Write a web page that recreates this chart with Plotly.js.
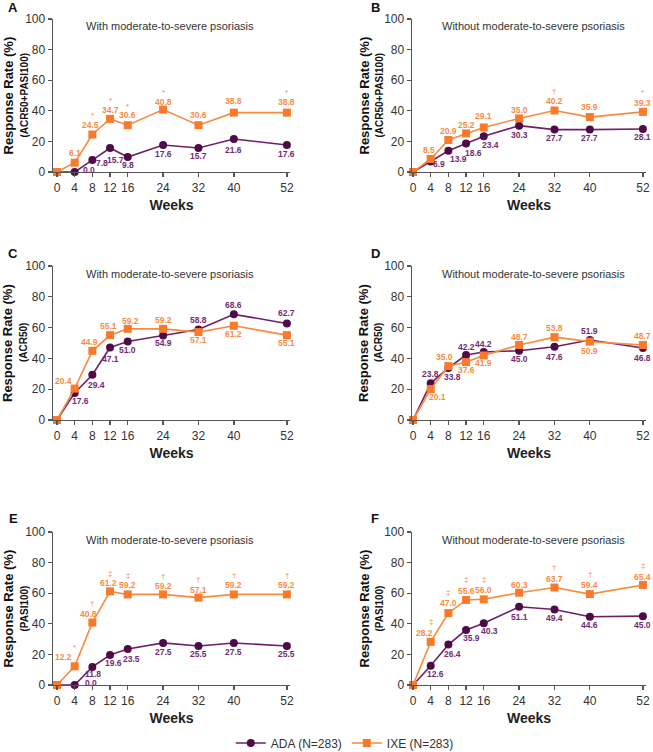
<!DOCTYPE html>
<html>
<head>
<meta charset="utf-8">
<script src="https://cdn.plot.ly/plotly-3.0.1.min.js"></script>
<style>html,body{margin:0;padding:0;background:#fff;overflow:hidden;}#chart{width:653px;height:752px;}</style>
</head>
<body>
<div id="chart"></div>
<script>
// ---- data ----
const weeks = [0, 4, 8, 12, 16, 24, 32, 40, 52];
const yTicks = [0, 20, 40, 60, 80, 100];

const adaA = [0, 0.0, 7.8, 15.7, 9.8, 17.6, 15.7, 21.6, 17.6];
const ixeA = [0, 6.1, 24.5, 34.7, 30.6, 40.8, 30.6, 38.8, 38.8];
const sigA = ['', '', '*', '*', '*', '*', '', '', '*'];

const adaB = [0, 6.9, 13.9, 18.6, 23.4, 30.3, 27.7, 27.7, 28.1];
const ixeB = [0, 8.5, 20.9, 25.2, 29.1, 35.0, 40.2, 35.9, 39.3];
const sigB = ['', '', '', '', '', '', '†', '', '*'];

const adaC = [0, 17.6, 29.4, 47.1, 51.0, 54.9, 58.8, 68.6, 62.7];
const ixeC = [0, 20.4, 44.9, 55.1, 59.2, 59.2, 57.1, 61.2, 55.1];
const sigC = ['', '', '', '', '', '', '', '', ''];

const adaD = [0, 23.8, 33.8, 42.2, 44.2, 45.0, 47.6, 51.9, 46.8];
const ixeD = [0, 20.1, 35.0, 37.6, 41.9, 48.7, 53.8, 50.9, 48.7];
const sigD = ['', '', '', '', '', '', '', '', ''];

const adaE = [0, 0.0, 11.8, 19.6, 23.5, 27.5, 25.5, 27.5, 25.5];
const ixeE = [0, 12.2, 40.8, 61.2, 59.2, 59.2, 57.1, 59.2, 59.2];
const sigE = ['', '*', '†', '‡', '‡', '†', '†', '†', '†'];

const adaF = [0, 12.6, 26.4, 35.9, 40.3, 51.1, 49.4, 44.6, 45.0];
const ixeF = [0, 28.2, 47.0, 55.6, 56.0, 60.3, 63.7, 59.4, 65.4];
const sigF = ['', '‡', '‡', '‡', '‡', '', '†', '†', '‡'];

const seriesNames = ['ADA (N=283)', 'IXE (N=283)'];
const panelLetters = ['A', 'B', 'C', 'D', 'E', 'F'];
const subTitles = ['With moderate-to-severe psoriasis', 'Without moderate-to-severe psoriasis'];
const yMain = 'Response Rate (%)';
const ySubs = ['(ACR50+PASI100)', '(ACR50+PASI100)', '(ACR50)', '(ACR50)', '(PASI100)', '(PASI100)'];
const xTitle = 'Weeks';

const adaData = [adaA, adaB, adaC, adaD, adaE, adaF];
const ixeData = [ixeA, ixeB, ixeC, ixeD, ixeE, ixeF];
const sigData = [sigA, sigB, sigC, sigD, sigE, sigF];

// ---- label placement (style): pixel offsets [dx, dy] from the marker, dy down-positive ----
const offAda = [
  [null, [14, -2], [10, 3], [5, 12], [0, 8], [0, 9], [0, 8], [0, 11], [0, 9]],
  [null, [8, 3], [10, 8], [7, 9], [7, 9], [0, 9], [0, 8], [0, 8], [0, 8]],
  [null, [6, 8], [4, 10], [0, 12], [0, 9], [0, 8], [0, -9], [0, -9], [0, -10]],
  [null, [0, -9], [4, 9], [0, -8], [0, -8], [0, 8], [0, 10], [0, -9], [0, 10]],
  [null, [16, -2], [1, 7], [3, 8], [4, 10], [0, 9], [0, 8], [0, 9], [0, 8]],
  [null, [5, 8], [4, 9], [5, 8], [6, 8], [0, 10], [0, 9], [0, 8], [0, 9]]
];
const offIxe = [
  [null, [0, -10], [-2, -10], [0, -9], [0, -10], [0, -8], [0, -10], [0, -12], [0, -11]],
  [null, [-2, -9], [0, -9], [0, -8], [0, -11], [0, -8], [0, -9], [0, -10], [0, -9]],
  [null, [-11, -8], [-3, -9], [-2, -9], [3, -8], [0, -9], [0, 8], [0, 8], [0, 8]],
  [null, [7, 8], [-4, -9], [0, 8], [0, 8], [0, -8], [0, -9], [0, 9], [0, -9]],
  [null, [-11, -9], [-4, -9], [-2, -8], [0, -9], [0, -8], [0, -8], [0, -9], [0, -9]],
  [null, [-6, -9], [0, -10], [0, -9], [0, -9], [0, -8], [0, -9], [0, -9], [0, -8]]
];
const symGap = [9, 10, 10, 10, 10, 11];

const FONT = 'Liberation Sans, Arial, sans-serif';
const PURPLE = '#4e0b47', PURPLE_LINE = '#6e1f66', PURPLE_TXT = '#742a72';
const ORANGE = '#f97a2a', ORANGE_LINE = '#f98a3e', ORANGE_TXT = '#f98b3f';

const W = 653, H = 752;
const colPx = [{d: [53, 290], r: [-0.9, 52.7]}, {d: [412, 646], r: [-0.23, 52.7]}];
const rowPx = [[19, 172], [266, 420], [532, 685]];

function fmt(v) { return v.toFixed(1); }

const traces = [];
const layout = {
  width: W, height: H,
  margin: {l: 0, r: 0, t: 0, b: 0, autoexpand: false},
  paper_bgcolor: '#fff', plot_bgcolor: '#fff',
  font: {family: FONT, color: '#333'},
  showlegend: true,
  legend: {orientation: 'h', x: 0.528, xanchor: 'center', y: 1 - 743 / H, yanchor: 'middle',
           font: {size: 12, color: '#333', family: FONT}, tracegroupgap: 0, bgcolor: 'rgba(0,0,0,0)'},
  annotations: []
};

function addLabel(xa, ya, x, y, txt, off, color, size) {
  layout.annotations.push({
    xref: xa, yref: ya, x: x, y: y, text: txt, showarrow: false,
    xanchor: 'center', yanchor: 'middle', xshift: off[0], yshift: -off[1],
    font: {size: size, color: color, family: FONT, weight: 'bold'}
  });
}

for (let p = 0; p < 6; p++) {
  const col = p % 2, row = Math.floor(p / 2);
  const ax = p === 0 ? '' : String(p + 1);
  const xa = 'x' + ax, ya = 'y' + ax;
  const cp = colPx[col], rp = rowPx[row];
  layout['xaxis' + ax] = {
    domain: [cp.d[0] / W, cp.d[1] / W], range: cp.r, anchor: ya,
    tickvals: weeks, ticktext: weeks.map(String), ticks: 'outside', ticklen: 4, tickwidth: 1.3,
    tickcolor: '#555', showline: true, linecolor: '#555', linewidth: 1.4, showgrid: false, zeroline: false,
    tickfont: {size: 12, color: '#333', family: FONT}, fixedrange: true,
    title: {text: xTitle, font: {size: 14, color: '#222', family: FONT, weight: 'bold'}, standoff: 6}
  };
  layout['yaxis' + ax] = {
    domain: [1 - rp[1] / H, 1 - rp[0] / H], range: [0, 100], anchor: xa,
    tickvals: yTicks, ticks: 'outside', ticklen: 4, tickwidth: 1.3, tickcolor: '#555',
    showline: true, linecolor: '#555', linewidth: 1.4, showgrid: false, zeroline: false,
    tickfont: {size: 12, color: '#333', family: FONT}, fixedrange: true
  };

  traces.push({
    x: weeks, y: adaData[p], xaxis: xa, yaxis: ya, type: 'scatter', mode: 'lines+markers',
    name: seriesNames[0], legendgroup: 'ada', showlegend: p === 0,
    line: {color: PURPLE_LINE, width: 1.6},
    marker: {symbol: 'circle', size: 8, color: PURPLE},
    cliponaxis: false, hoverinfo: 'skip'
  });
  traces.push({
    x: weeks, y: ixeData[p], xaxis: xa, yaxis: ya, type: 'scatter', mode: 'lines+markers',
    name: seriesNames[1], legendgroup: 'ixe', showlegend: p === 0,
    line: {color: ORANGE_LINE, width: 1.6},
    marker: {symbol: 'square', size: 8, color: ORANGE},
    cliponaxis: false, hoverinfo: 'skip'
  });

  // value labels
  for (let i = 1; i < weeks.length; i++) {
    addLabel(xa, ya, weeks[i], adaData[p][i], fmt(adaData[p][i]), offAda[p][i], PURPLE_TXT, 8.5);
    const o = offIxe[p][i];
    addLabel(xa, ya, weeks[i], ixeData[p][i], fmt(ixeData[p][i]), o, ORANGE_TXT, 8.5);
    const s = sigData[p][i];
    if (s) {
      layout.annotations.push({
        xref: xa, yref: ya, x: weeks[i], y: ixeData[p][i], text: s, showarrow: false,
        xanchor: 'center', yanchor: 'middle', xshift: 0, yshift: -(o[1] - symGap[p]),
        font: {size: 8, color: ORANGE_TXT, family: FONT}
      });
    }
  }

  // panel letter
  const letterX = col === 0 ? 13 : 375;
  const letterY = [8, 253, 518][row];
  layout.annotations.push({
    xref: 'paper', yref: 'paper', x: letterX / W, y: 1 - letterY / H, xanchor: 'center', yanchor: 'middle',
    text: '<b>' + panelLetters[p] + '</b>', showarrow: false, font: {size: 13, color: '#111', family: FONT}
  });
  // subtitle
  const subX = col === 0 ? 170 : 533;
  const subY = [26, 274, 540][row];
  layout.annotations.push({
    xref: 'paper', yref: 'paper', x: subX / W, y: 1 - subY / H, xanchor: 'center', yanchor: 'middle',
    text: subTitles[col], showarrow: false, font: {size: 11, color: '#333', family: FONT}
  });
  // y titles
  const yc = 1 - ((rp[0] + rp[1]) / 2) / H;
  const mainX = col === 0 ? 8 : 364;
  const subXX = col === 0 ? 24 : 379;
  layout.annotations.push({
    xref: 'paper', yref: 'paper', x: mainX / W, y: yc, xanchor: 'center', yanchor: 'middle', textangle: -90,
    text: '<b>' + yMain + '</b>', showarrow: false, font: {size: 13, color: '#111', family: FONT}
  });
  layout.annotations.push({
    xref: 'paper', yref: 'paper', x: subXX / W, y: yc, xanchor: 'center', yanchor: 'middle', textangle: -90,
    text: '<b>' + ySubs[p] + '</b>', showarrow: false, font: {size: 10, color: '#111', family: FONT}
  });
}

Plotly.newPlot('chart', traces, layout, {displayModeBar: false, staticPlot: true});
</script>
</body>
</html>
